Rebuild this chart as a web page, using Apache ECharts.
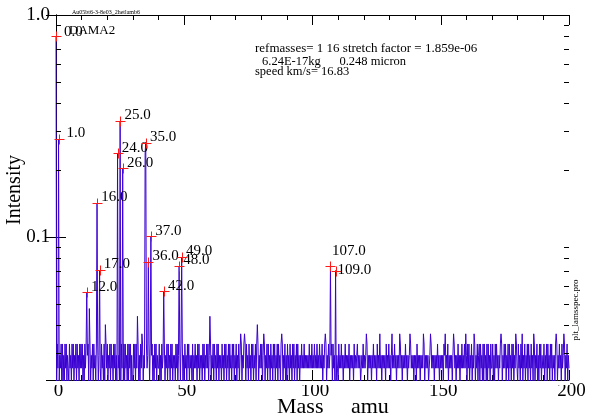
<!DOCTYPE html>
<html><head><meta charset="utf-8">
<script src="https://cdn.jsdelivr.net/npm/echarts@6/dist/echarts.min.js"></script>
<style>html,body{margin:0;padding:0;background:#fff}#c{width:592px;height:420px}</style>
</head><body><div id="c"></div>
<script>
// ---- data ----
const massStep = 0.25;          // amu between trace samples
const levelUnit = 0.00365;      // intensity of one noise count
// noise counts, one hex digit per sample, 10 amu per string
const noiseCounts = [
  "8697968796 9686979687 6978697968 7969786979",
  "7968697968 96d9687969 7869796897 6978696b97",
  "9687969786 9796869786 9697869697 8696979686",
  "6979697c96 8697a96879 6978696978 9686979687",
  "7968697869 6879697869 7968786979 6879697968",
  "6978697968 7869687978 6979687869 7968797968",
  "c968796978 6979687869 7869796879 6978697968",
  "79687968a9 6879a96978 6978697968 7969b96879",
  "7968a96879 6978697869 7968796978 69a9687968",
  "6978697869 7968796978 6879787978 7878797879",
  "7879787978 7978796879 a968797868 9697869687",
  "6978797868 7978787968 7878697878 9787867879",
  "7878a96878 7868797878 69787a7868 7878697879",
  "7868a78797 868787a978 6878797868 78a9787868",
  "7869787868 787a968787 8678a97878 6878797868",
  "7878698a78 7968787868 a978687978 687978797a",
  "8697968796 87a9687968 9697869697 8696978697",
  "7968697978 6879a96879 7968796978 6979687a97",
  "6978697a68 7968796978 69786a9687 9686979687",
  "7968796978 6979687869 a968797869 78a9687968 7"
];
const peakMasses = [0, 1, 12, 16, 17, 24, 25, 26, 34.75, 35, 36, 37, 42, 48, 49, 107, 109];
const peakValues = [0.804, 0.276, 0.0563, 0.1419, 0.0708, 0.2384, 0.3326, 0.204, 0.24, 0.265, 0.0769, 0.1007, 0.0569, 0.0738, 0.081, 0.0738, 0.0704];
const markMasses = [0, 1, 12, 16, 17, 24, 25, 26, 35, 36, 37, 42, 48, 49, 107, 109];
const markLabels = ["0.0","1.0","12.0","16.0","17.0","24.0","25.0","26.0","35.0","36.0","37.0","42.0","48.0","49.0","107.0","109.0"];
const xTickLabels = ["0", "50", "100", "150", "200"];
const yTickLabels = ["0.1", "1.0"];
const yMinorTicks = [0.03,0.04,0.05,0.06,0.07,0.08,0.09,0.2,0.3,0.4,0.5,0.6,0.7,0.8,0.9];
const titleText = "DAMA2";
const fileText = "Au05bt6-3-8e03_2hetlamb6";
const infoLines = ["refmasses= 1 16 stretch factor = 1.859e-06", "6.24E-17kg      0.248 micron", "speed km/s= 16.83"];
const progText = "plt_lamsspec.pro";

// ---- build ----
const Y_MIN = 0.0226, Y_MAX = 1;
const digits = noiseCounts.join('').replace(/\s/g, '');
const spectrum = [];
for (let i = 0; i < digits.length; i++) spectrum.push([i * massStep, parseInt(digits.charAt(i), 16) * levelUnit]);
peakMasses.forEach((m, k) => { spectrum[Math.round(m / massStep)][1] = peakValues[k]; });
const markers = markMasses.map((m, k) => [m, spectrum[Math.round(m / massStep)][1], k]);
const labelShift = {0: [0, 2], 14: [1, -9], 15: [1.5, 4.5]};

const SERIF = '"Liberation Serif", "Times New Roman", serif';
const BLUE = '#3a00d2';
function isDecade(v) { const l = Math.log10(v); return Math.abs(l - Math.round(l)) < 1e-6; }

// pixel of a data point, from the log axis's own decade positions
// (also valid for counts that fall under the axis minimum)
function coordOf(api, p) {
  const top = api.coord([p[0], 1]);
  const dec = api.coord([p[0], 0.1])[1] - top[1];
  return [top[0], top[1] - dec * Math.log10(p[1])];
}

const chart = echarts.init(document.getElementById('c'), null, {renderer: 'canvas'});
const yBase = {
  type: 'log', logBase: 10, min: Y_MIN, max: Y_MAX,
  axisLine: {show: true, lineStyle: {color: '#000', width: 1}},
  axisTick: {show: true, inside: true, length: 10, lineStyle: {color: '#000'}},
  splitLine: {show: false}, minorTick: {show: false}, minorSplitLine: {show: false}
};
const xBase = {
  type: 'value', min: 0, max: 200, interval: 50,
  axisLine: {show: true, onZero: false, lineStyle: {color: '#000', width: 1}},
  axisTick: {show: true, inside: true, length: 10, lineStyle: {color: '#000'}},
  minorTick: {show: true, splitNumber: 5, length: 5, lineStyle: {color: '#000'}},
  splitLine: {show: false}
};
chart.setOption({
  animation: false,
  backgroundColor: '#fff',
  grid: {left: 56, right: 23, top: 15, bottom: 40, containLabel: false, outerBoundsMode: 'none'},
  xAxis: [
    Object.assign({}, xBase, {position: 'bottom',
      axisLabel: {show: true, margin: 2, color: '#000', fontFamily: SERIF, fontSize: 19, padding: [0, 0, 0, 5],
        formatter: v => xTickLabels[Math.round(v / 50)] || ''}}),
    Object.assign({}, xBase, {position: 'top', axisLabel: {show: false}})
  ],
  yAxis: [
    Object.assign({}, yBase, {position: 'left',
      axisLabel: {show: true, margin: 6, color: '#000', fontFamily: SERIF, fontSize: 19,
        formatter: v => isDecade(v) ? yTickLabels[Math.round(Math.log10(v)) + 1] || '' : ''}}),
    Object.assign({}, yBase, {position: 'right', axisLabel: {show: false}})
  ],
  series: [
    {
      // the spectrum trace; the strip just under the plot box is blanked so
      // counts below the axis minimum stop at the bottom axis
      type: 'custom', coordinateSystem: 'cartesian2d', xAxisIndex: 0, yAxisIndex: 0,
      data: [[0, Y_MAX]], encode: {x: 0, y: 1}, clip: false, silent: true, z: 2,
      renderItem: (params, api) => {
        const pts = spectrum.map(p => coordOf(api, p));
        const cs = params.coordSys;
        return {type: 'group', children: [
          {type: 'polyline', shape: {points: pts}, style: {stroke: BLUE, lineWidth: 1, fill: null}},
          {type: 'rect', shape: {x: cs.x - 1, y: cs.y + cs.height + 1, width: cs.width + 2, height: 4},
            style: {fill: '#fff'}}
        ]};
      }
    },
    {
      type: 'custom', coordinateSystem: 'cartesian2d', xAxisIndex: 0, yAxisIndex: 0,
      data: yMinorTicks.map(v => [0, v]), encode: {x: 0, y: 1}, silent: true, z: 3,
      renderItem: (params, api) => {
        const yv = api.value(1);
        const pl = api.coord([0, yv]);
        const pr = api.coord([200, yv]);
        const y = Math.round(pl[1]) + 0.5;
        return {type: 'group', children: [
          {type: 'line', shape: {x1: pl[0], y1: y, x2: pl[0] + 5, y2: y}, style: {stroke: '#000', lineWidth: 1}},
          {type: 'line', shape: {x1: pr[0] - 5, y1: y, x2: pr[0], y2: y}, style: {stroke: '#000', lineWidth: 1}}
        ]};
      }
    },
    {
      type: 'custom', coordinateSystem: 'cartesian2d', xAxisIndex: 0, yAxisIndex: 0,
      data: markers, encode: {x: 0, y: 1}, silent: true, z: 5, clip: false,
      renderItem: (params, api) => {
        const p = api.coord([api.value(0), api.value(1)]);
        const k = api.value(2);
        const lab = markLabels[k];
        const sh = labelShift[k] || [0, 0];
        const pad = (5 - lab.length) * 3.75;
        const cx = Math.round(p[0]) + 0.5, cy = Math.round(p[1]) + 0.5;
        return {type: 'group', children: [
          {type: 'line', shape: {x1: cx - 5, y1: cy, x2: cx + 5, y2: cy}, style: {stroke: '#ff1a1a', lineWidth: 1}},
          {type: 'line', shape: {x1: cx, y1: cy - 5, x2: cx, y2: cy + 5}, style: {stroke: '#ff1a1a', lineWidth: 1}},
          {type: 'text', x: p[0] + pad + 0.5 + sh[0], y: p[1] + 2 + sh[1],
            style: {text: lab, font: '15px ' + SERIF, fill: '#000', align: 'left', verticalAlign: 'bottom'}}
        ]};
      }
    }
  ],
  graphic: [
    {type: 'text', x: 72, y: 12, style: {text: fileText, font: '6px ' + SERIF, fill: '#000', align: 'left', verticalAlign: 'middle'}},
    {type: 'text', x: 69, y: 30.6, z: 10, style: {text: titleText, font: '13px ' + SERIF, fill: '#000', align: 'left', verticalAlign: 'middle'}},
    {type: 'text', x: 255, y: 48.8, style: {text: infoLines[0], font: '13px ' + SERIF, fill: '#000', align: 'left', verticalAlign: 'middle'}},
    {type: 'text', x: 262, y: 61.3, style: {text: infoLines[1], font: '12.5px ' + SERIF, fill: '#000', align: 'left', verticalAlign: 'middle'}},
    {type: 'text', x: 255, y: 72, style: {text: infoLines[2], font: '12.5px ' + SERIF, fill: '#000', align: 'left', verticalAlign: 'middle'}},
    {type: 'text', x: 277, y: 407, style: {text: 'Mass     amu', font: '22px ' + SERIF, fill: '#000', align: 'left', verticalAlign: 'middle'}},
    {type: 'text', x: 15, y: 190, rotation: Math.PI / 2, style: {text: 'Intensity', font: '20px ' + SERIF, fill: '#000', align: 'center', verticalAlign: 'middle'}},
    {type: 'text', x: 576, y: 310, rotation: Math.PI / 2, style: {text: progText, font: '9px ' + SERIF, fill: '#000', align: 'center', verticalAlign: 'middle'}}
  ]
});
</script>
</body></html>
